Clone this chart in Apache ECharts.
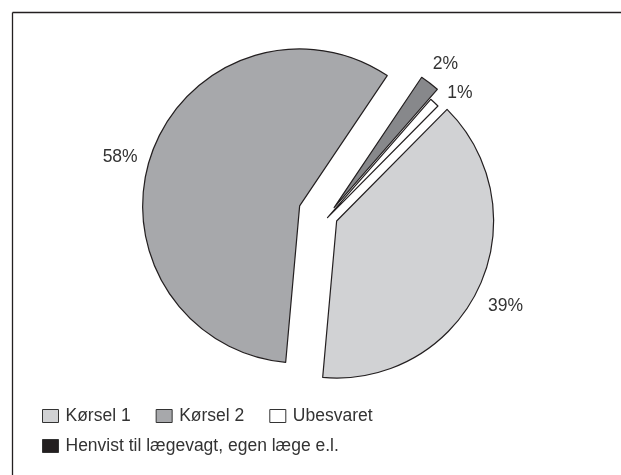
<!DOCTYPE html>
<html>
<head>
<meta charset="utf-8">
<script src="https://cdn.jsdelivr.net/npm/echarts@6/dist/echarts.min.js"></script>
<style>
html,body{margin:0;padding:0;background:#fff;}
#chart{width:621px;height:475px;}
</style>
</head>
<body>
<div id="chart"></div>
<script>
// Data
const categories = ['Kørsel 1', 'Kørsel 2', 'Henvist til lægevagt, egen læge e.l.', 'Ubesvaret'];
const values = [39, 58, 2, 1];
const legendRow1 = ['Kørsel 1', 'Kørsel 2', 'Ubesvaret'];
const legendRow2 = ['Henvist til lægevagt, egen læge e.l.'];

// Styles (not data)
const sliceColors = ['#d1d2d4', '#a7a8ab', '#87888b', '#ffffff'];
const legendColors = ['#d1d2d4', '#a7a8ab', '#231f20', '#ffffff'];
// each layer draws some slices; the exploded pieces sit at slightly different places
const layers = [
  {show: [0, 1], center: [318.5, 212.6], selected: true, nudge: [[4, 19], [-9, 4]]},
  {show: [2], center: [334.1, 207.6], selected: false, nudge: [null, null, [-2, -19]]},
  {show: [3], center: [327.5, 217.6], selected: false, nudge: [null, null, null, [8, -9]]}
];

const FONT = '"Liberation Sans", Arial, sans-serif';
const TEXT = '#333333';

const chart = echarts.init(document.getElementById('chart'), null, {renderer: 'canvas'});

function legendItems(names) {
  return names.map(n => ({name: n, itemStyle: {color: legendColors[categories.indexOf(n)]}}));
}

const legendCommon = {
  left: 42,
  padding: 0,
  orient: 'horizontal',
  itemWidth: 16,
  itemHeight: 13,
  itemGap: 25,
  icon: 'rect',
  selectedMode: false,
  itemStyle: {borderColor: '#333', borderWidth: 1},
  textStyle: {fontFamily: FONT, fontSize: 17.5, color: TEXT, padding: [0, 0, 0, 2]}
};

const series = layers.map(layer => ({
  type: 'pie',
  center: layer.center,
  radius: 157,
  startAngle: 45.3,
  clockwise: true,
  selectedMode: 'multiple',
  selectedOffset: 20,
  avoidLabelOverlap: false,
  silent: true,
  emphasis: {disabled: true},
  label: {
    position: 'outside',
    formatter: '{c}%',
    fontFamily: FONT,
    fontSize: 17.5,
    color: TEXT,
    distanceToLabelLine: 5
  },
  labelLine: {show: false, length: 0, length2: 0},
  labelLayout: function (params) {
    const n = layer.nudge[params.dataIndex] || [0, 0];
    return {dx: n[0], dy: n[1]};
  },
  data: categories.map((name, i) => {
    const on = layer.show.indexOf(i) >= 0;
    return {
      name: name,
      value: values[i],
      selected: layer.selected,
      itemStyle: on
        ? {color: sliceColors[i], borderColor: '#231f20', borderWidth: 1.2}
        : {color: 'rgba(0,0,0,0)', borderWidth: 0},
      label: {show: on}
    };
  })
}));

chart.setOption({
  animation: false,
  backgroundColor: '#ffffff',
  graphic: [
    {type: 'line', shape: {x1: 12.5, y1: 12.5, x2: 621, y2: 12.5}, style: {stroke: '#231f20', lineWidth: 1.3}},
    {type: 'line', shape: {x1: 12.5, y1: 12.5, x2: 12.5, y2: 475}, style: {stroke: '#231f20', lineWidth: 1.3}}
  ],
  legend: [
    Object.assign({}, legendCommon, {top: 407, data: legendItems(legendRow1)}),
    Object.assign({}, legendCommon, {top: 437, data: legendItems(legendRow2)})
  ],
  series: series
});
</script>
</body>
</html>
